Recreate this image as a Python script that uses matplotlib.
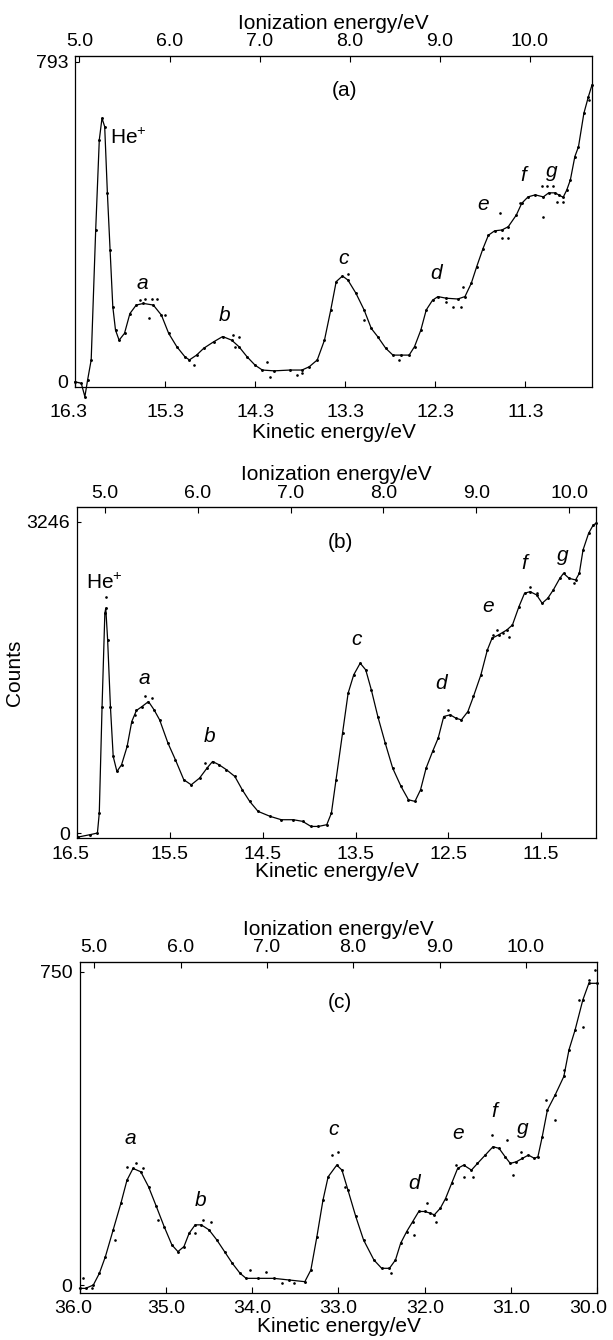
import numpy as np
import matplotlib
matplotlib.use("Agg")
import matplotlib.pyplot as plt
import matplotlib.transforms as mtransforms

plt.rcParams['font.family'] = ['Liberation Sans', 'DejaVu Sans']
plt.rcParams['mathtext.default'] = 'regular'

# ---- panel (a): He I, kinetic energy (eV) vs counts
ke_a = [16.30, 16.23, 16.19, 16.16, 16.12, 16.07, 16.03, 16.00, 15.97, 15.94, 15.91, 15.88,
        15.85, 15.81, 15.75, 15.69, 15.62, 15.54, 15.43, 15.34, 15.26, 15.17, 15.08, 15.03,
        14.95, 14.87, 14.76, 14.66, 14.56, 14.48, 14.39, 14.30, 14.22, 14.09, 13.91, 13.78,
        13.70, 13.61, 13.53, 13.46, 13.40, 13.33, 13.27, 13.18, 13.09, 13.01, 12.94, 12.85,
        12.77, 12.68, 12.59, 12.53, 12.46, 12.40, 12.33, 12.27, 12.18, 12.05, 11.97, 11.90,
        11.84, 11.77, 11.71, 11.64, 11.56, 11.49, 11.40, 11.34, 11.27, 11.19, 11.10, 11.04,
        10.97, 10.93, 10.88, 10.84, 10.80, 10.75, 10.71, 10.65, 10.60, 10.56]
cnt_a = [0, -4, -37, 4, 54, 376, 599, 653, 632, 467, 326, 186,
         128, 103, 120, 169, 190, 194, 190, 165, 120, 87, 62, 54,
         66, 83, 99, 112, 103, 87, 62, 41, 29, 27, 29, 29,
         37, 54, 103, 178, 248, 262, 252, 219, 178, 132, 112, 83,
         66, 66, 66, 87, 128, 178, 202, 211, 207, 205, 211, 244,
         285, 330, 363, 374, 376, 384, 413, 442, 458, 463, 458, 468,
         468, 463, 457, 475, 500, 558, 582, 665, 706, 735]
dot_ke_a = [15.58, 15.52, 15.45, 15.39, 15.48, 15.30, 14.54, 14.48, 14.52, 14.98, 14.17, 14.13,
            13.83, 13.78, 13.27, 13.09, 12.70, 12.18, 12.10, 12.01, 11.99, 11.58, 11.56, 11.49,
            11.36, 11.12, 11.06, 10.99, 11.10, 10.95, 10.88, 10.59]
dot_cnt_a = [202, 204, 205, 205, 157, 165, 116, 110, 87, 41, 50, 12,
             17, 21, 267, 153, 54, 198, 186, 186, 235, 417, 355, 355,
             442, 485, 485, 485, 409, 446, 446, 698]

# ---- panel (b)
ke_b = [16.49, 16.36, 16.28, 16.26, 16.23, 16.20, 16.19, 16.17, 16.14, 16.11, 16.07, 16.02,
        15.96, 15.91, 15.86, 15.80, 15.73, 15.67, 15.61, 15.52, 15.44, 15.35, 15.27, 15.18,
        15.10, 15.04, 14.97, 14.89, 14.80, 14.72, 14.64, 14.55, 14.42, 14.30, 14.17, 14.07,
        13.98, 13.90, 13.81, 13.76, 13.71, 13.64, 13.58, 13.52, 13.45, 13.39, 13.33, 13.26,
        13.18, 13.10, 13.01, 12.93, 12.86, 12.80, 12.74, 12.67, 12.61, 12.55, 12.48, 12.42,
        12.36, 12.29, 12.23, 12.15, 12.08, 12.03, 11.96, 11.87, 11.81, 11.74, 11.68, 11.62,
        11.55, 11.49, 11.43, 11.37, 11.30, 11.26, 11.20, 11.13, 11.09, 11.05, 10.99, 10.94, 10.91]
cnt_b = [-42, -17, 0, 208, 1319, 2292, 2344, 2014, 1319, 799, 642, 712,
         903, 1163, 1278, 1319, 1371, 1285, 1180, 937, 764, 556, 503, 573,
         677, 746, 712, 660, 590, 451, 330, 226, 174, 139, 139, 122,
         69, 69, 87, 208, 556, 1042, 1458, 1649, 1771, 1701, 1493, 1215,
         937, 677, 486, 347, 330, 451, 677, 851, 990, 1215, 1233, 1198,
         1180, 1267, 1424, 1649, 1910, 2031, 2066, 2118, 2170, 2361, 2500, 2517,
         2483, 2396, 2448, 2535, 2656, 2708, 2656, 2639, 2708, 2951, 3125, 3212, 3229]
dot_ke_b = [16.19, 15.88, 15.77, 15.69, 15.12, 12.50, 12.02, 11.98, 11.91, 11.85, 11.62, 11.55, 11.15]
dot_cnt_b = [2465, 1233, 1424, 1406, 729, 1285, 2066, 2118, 2083, 2049, 2569, 2500, 2604]

# ---- panel (c): He II
ke_c = [36.00, 35.93, 35.84, 35.77, 35.70, 35.61, 35.52, 35.45, 35.38, 35.29, 35.20, 35.11,
        35.02, 34.93, 34.86, 34.79, 34.73, 34.66, 34.59, 34.50, 34.41, 34.32, 34.23, 34.14,
        34.07, 33.93, 33.75, 33.57, 33.39, 33.32, 33.25, 33.18, 33.12, 33.02, 32.96, 32.89,
        32.80, 32.71, 32.59, 32.50, 32.41, 32.34, 32.28, 32.21, 32.14, 32.07, 32.00, 31.94,
        31.89, 31.82, 31.76, 31.69, 31.62, 31.55, 31.46, 31.39, 31.30, 31.21, 31.14, 31.07,
        31.01, 30.94, 30.87, 30.80, 30.73, 30.69, 30.64, 30.58, 30.49, 30.39, 30.33, 30.26,
        30.17, 30.10, 30.01]
cnt_c = [-8, -8, 0, 28, 68, 132, 196, 251, 279, 271, 235, 188,
         140, 96, 80, 92, 124, 144, 144, 132, 108, 80, 52, 28,
         16, 16, 16, 12, 8, 36, 116, 203, 259, 287, 275, 227,
         164, 108, 60, 40, 40, 60, 100, 128, 152, 176, 176, 172,
         168, 184, 207, 243, 279, 287, 275, 291, 311, 331, 327, 307,
         291, 295, 303, 311, 303, 307, 355, 419, 455, 499, 563, 610,
         682, 722, 722]
dot_ke_c = [35.96, 35.86, 35.59, 35.45, 35.34, 35.27, 35.09, 34.57, 34.48, 34.66, 34.02, 33.84,
            33.66, 33.52, 33.07, 33.00, 32.93, 32.39, 32.12, 31.98, 31.87, 31.64, 31.55, 31.44,
            31.22, 31.05, 30.98, 30.89, 30.60, 30.49, 30.39, 30.21, 30.17, 30.10, 30.03]
dot_cnt_c = [16, -8, 108, 283, 291, 279, 156, 156, 152, 124, 36, 32,
             4, 4, 311, 319, 235, 28, 120, 196, 152, 287, 259, 259,
             359, 347, 263, 319, 443, 395, 515, 682, 618, 730, 754]

ie_ticks = [5.0, 6.0, 7.0, 8.0, 9.0, 10.0]
peak_names = ['a', 'b', 'c', 'd', 'e', 'f', 'g']

panels = [
    dict(ke=ke_a, cnt=cnt_a, dke=dot_ke_a, dcnt=dot_cnt_a, xlim=(16.3, 10.56), ylim=(-13, 807),
         ymax=793, ephot=21.25, xticks=[16.3, 15.3, 14.3, 13.3, 12.3, 11.3], tag='(a)', tagpos=(0.522, 0.897),
         rect=[0.1223, 0.7112, 0.8434, 0.2470], xpad=12, xlpad=2,
         lab_ke=[15.55, 14.64, 13.32, 12.29, 11.77, 11.32, 11.01], lab_y=[244, 165, 306, 268, 438, 512, 520],
         he=(15.91, 603, 'left')),
    dict(ke=ke_b, cnt=cnt_b, dke=dot_ke_b, dcnt=dot_cnt_b, xlim=(16.5, 10.91), ylim=(-52, 3399),
         ymax=3246, ephot=21.2, xticks=[16.5, 15.5, 14.5, 13.5, 12.5, 11.5], tag='(b)', tagpos=(0.508, 0.894),
         rect=[0.1256, 0.3746, 0.8467, 0.2470], xpad=6, xlpad=-1,
         lab_ke=[15.77, 15.07, 13.49, 12.58, 12.07, 11.68, 11.27], lab_y=[1614, 1007, 2014, 1562, 2361, 2812, 2899],
         he=(16.20, 2604, 'center')),
    dict(ke=ke_c, cnt=cnt_c, dke=dot_ke_c, dcnt=dot_cnt_c, xlim=(36.0, 30.0), ylim=(-19, 773),
         ymax=750, ephot=40.83, xticks=[36.0, 35.0, 34.0, 33.0, 32.0, 31.0, 30.0], tag='(c)', tagpos=(0.503, 0.877),
         rect=[0.1297, 0.0351, 0.8450, 0.2470], xpad=5, xlpad=0,
         lab_ke=[35.41, 34.60, 33.06, 32.12, 31.62, 31.20, 30.86], lab_y=[351, 203, 373, 243, 363, 415, 375],
         he=None),
]

fig = plt.figure(figsize=(6.13, 13.40), dpi=100)

for p in panels:
    ax = fig.add_axes(p['rect'])
    ax.plot(p['ke'], p['cnt'], color='black', lw=0.9, clip_on=False)
    ax.plot(p['ke'], p['cnt'], ls='none', marker='.', ms=2.2, color='black', clip_on=False)
    ax.plot(p['dke'], p['dcnt'], ls='none', marker='.', ms=1.8, color='black')
    ax.set_xlim(p['xlim'])
    ax.set_ylim(p['ylim'])
    ax.set_xticks(p['xticks'])
    ax.set_xticklabels(['%.1f' % t for t in p['xticks']])
    ax.set_yticks([0, p['ymax']])
    ax.set_yticklabels(['0', str(p['ymax'])])
    ax.tick_params(axis='x', direction='in', length=4, pad=p['xpad'], labelsize=14)
    ax.tick_params(axis='y', direction='in', length=3, pad=5, labelsize=14)
    ax.set_xlabel('Kinetic energy/eV', fontsize=15, labelpad=p['xlpad'])
    for sp in ax.spines.values():
        sp.set_linewidth(0.9)

    # first/last bottom labels sit slightly inside the frame, as in the print
    labels = ax.get_xticklabels()
    labels[0].set_transform(labels[0].get_transform() +
                            mtransforms.ScaledTranslation(-0.06, 0, fig.dpi_scale_trans))
    if p['xticks'][-1] == 30.0:
        labels[-1].set_transform(labels[-1].get_transform() +
                                 mtransforms.ScaledTranslation(-0.09, 0, fig.dpi_scale_trans))

    e = p['ephot']
    top = ax.secondary_xaxis('top', functions=(lambda k, e=e: e - k, lambda i, e=e: e - i))
    top.set_xticks(ie_ticks)
    top.set_xticklabels(['%.1f' % t for t in ie_ticks])
    top.tick_params(direction='in', length=4, pad=4, labelsize=14)
    top.set_xlabel('Ionization energy/eV', fontsize=15, labelpad=3)

    ax.text(p['tagpos'][0], p['tagpos'][1], p['tag'], transform=ax.transAxes,
            ha='center', va='center', fontsize=15)
    for name, x, y in zip(peak_names, p['lab_ke'], p['lab_y']):
        ax.text(x, y, name, ha='center', va='center', fontsize=15, style='italic')
    if p['he'] is not None:
        ax.text(p['he'][0], p['he'][1], 'He$^{+}$', ha=p['he'][2], va='center', fontsize=15)

    if p['tag'] == '(b)':
        ax.set_ylabel('Counts', fontsize=15, labelpad=2)

fig.savefig('out.png', dpi=100)
